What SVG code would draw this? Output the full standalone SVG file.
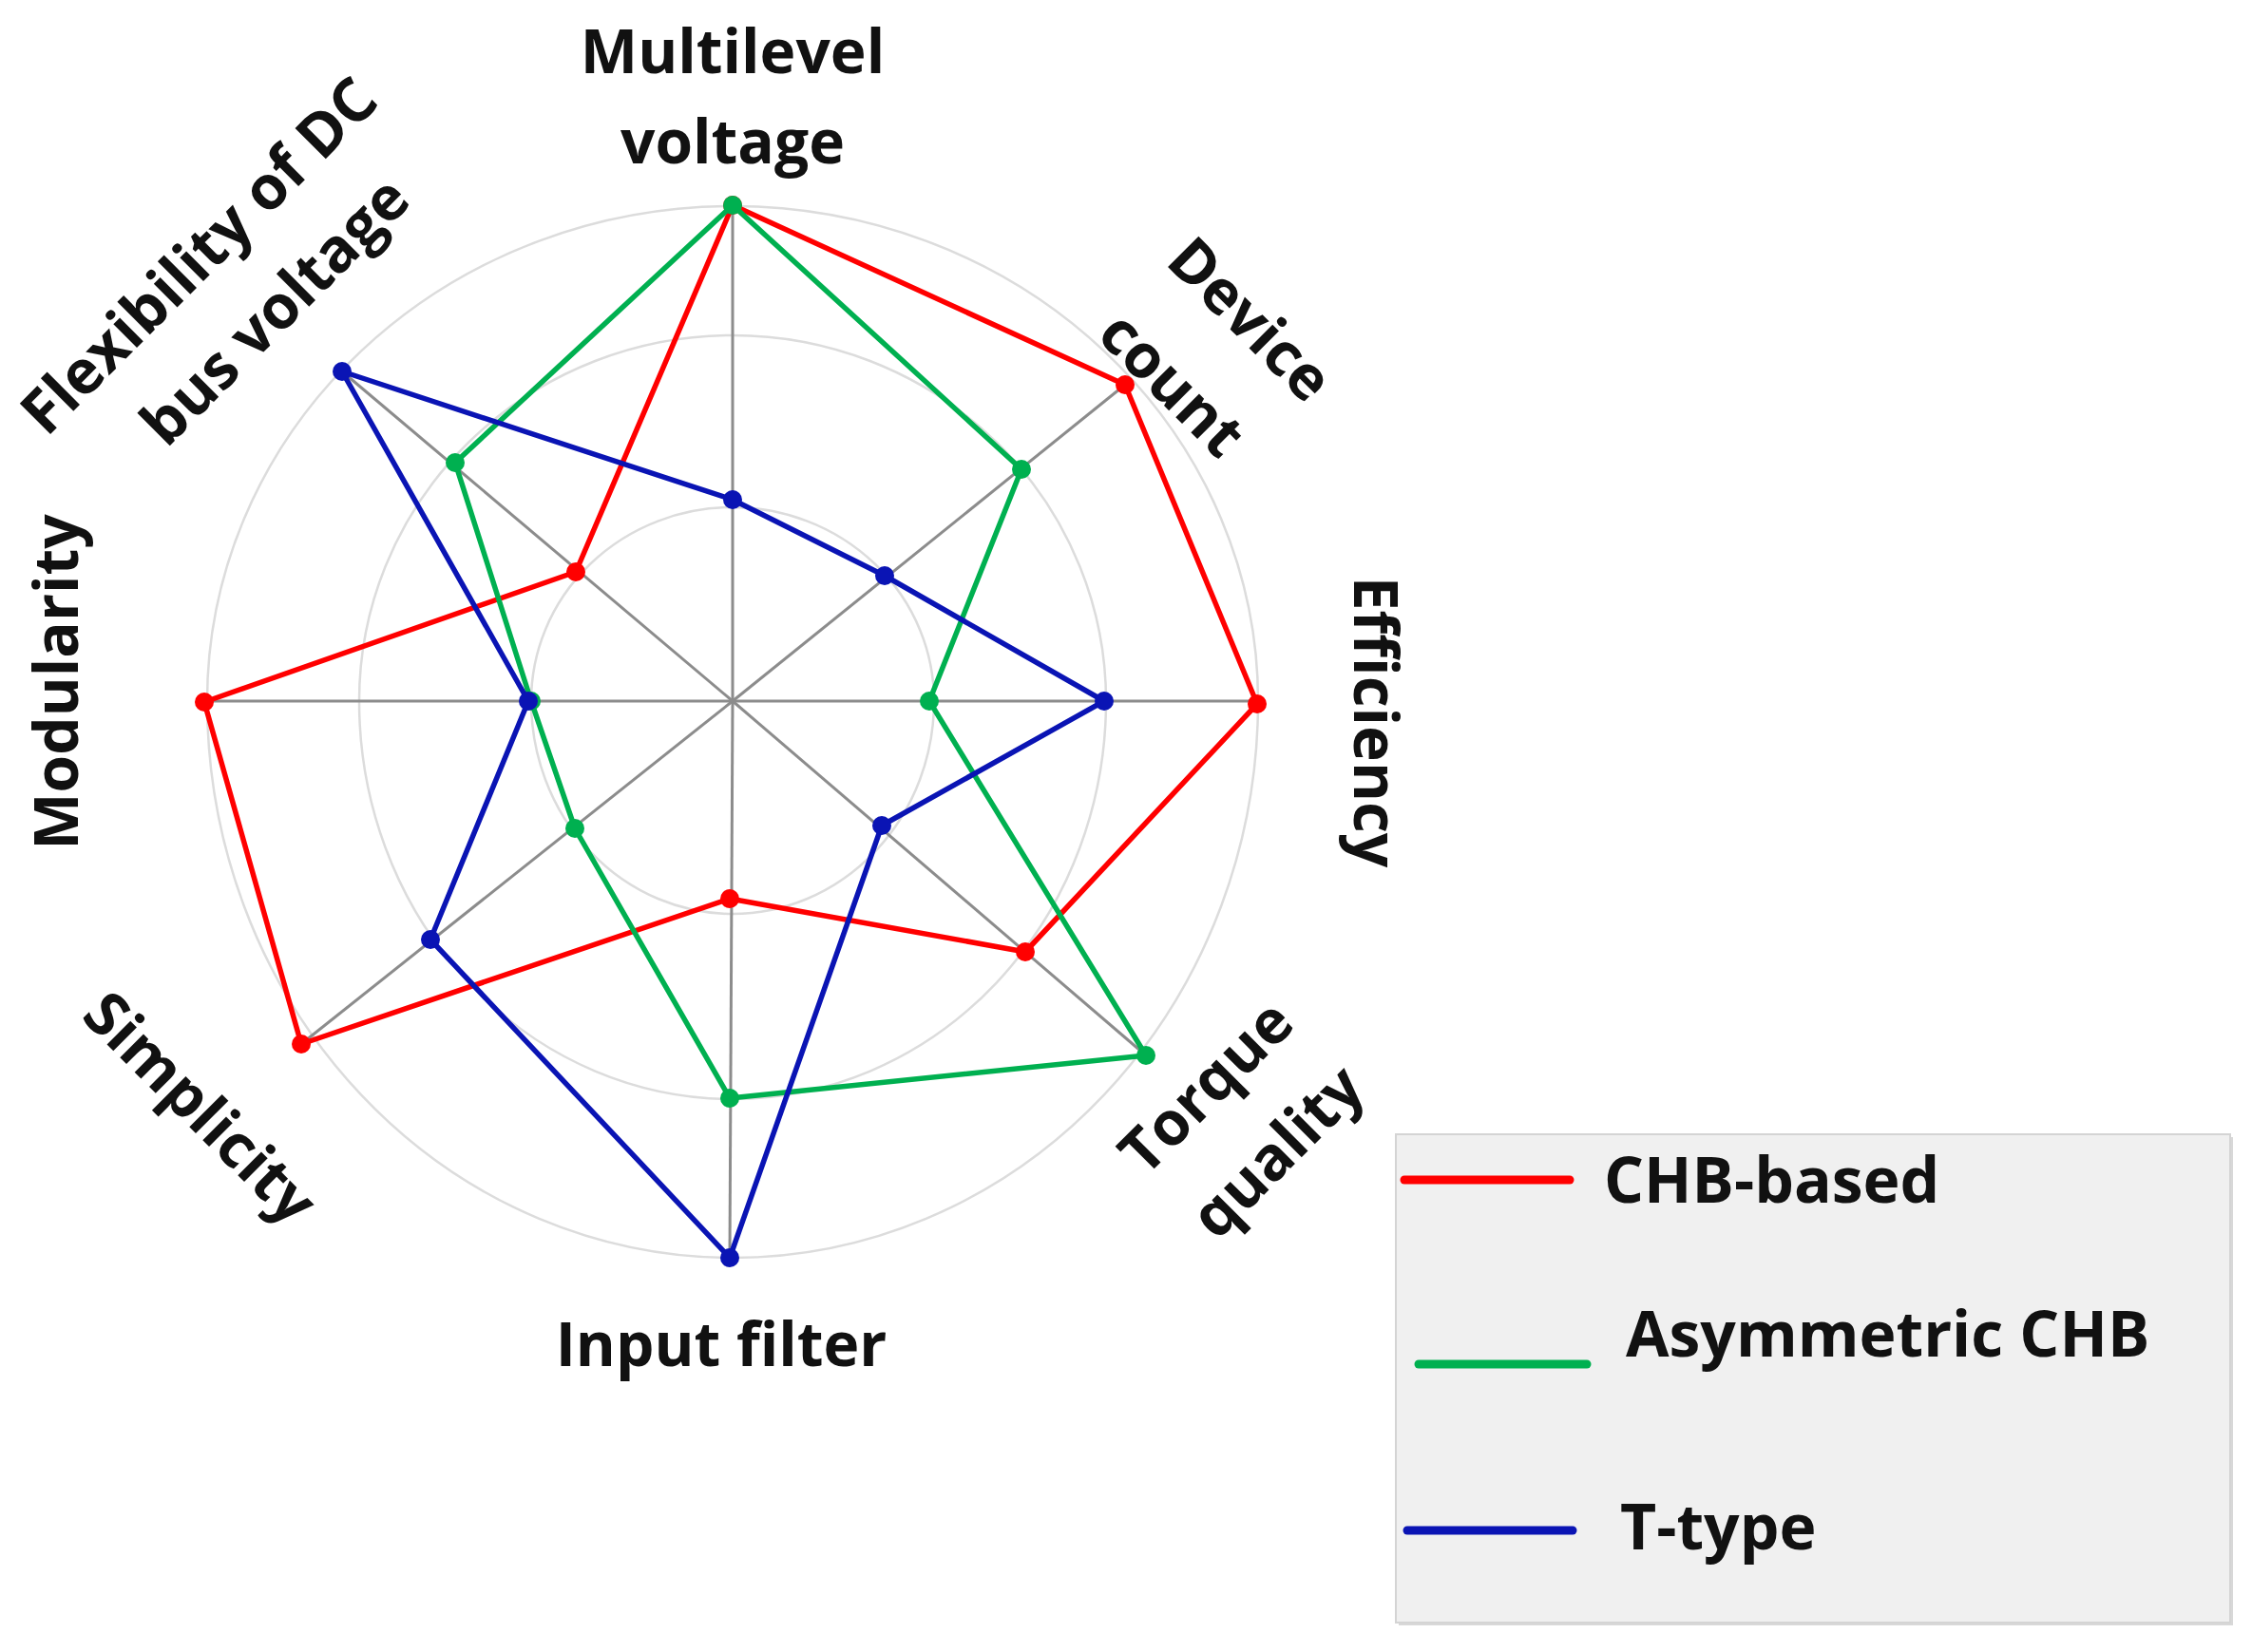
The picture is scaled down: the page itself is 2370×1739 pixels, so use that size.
<svg xmlns="http://www.w3.org/2000/svg" width="2370" height="1739" viewBox="0 0 2370 1739">
<style>
.lbl{font-family:"Open Sans","Liberation Sans",sans-serif;font-weight:bold;font-size:64px;fill:#111;text-anchor:middle}
.leg{font-family:"Open Sans","Liberation Sans",sans-serif;font-weight:bold;font-size:66px;fill:#111}
.ring{fill:none;stroke:#dcdcdc;stroke-width:2.5}
.axis{stroke:#8c8c8c;stroke-width:3}
.s{fill:none;stroke-width:5.5;stroke-linejoin:round}
</style>
<rect width="2370" height="1739" fill="#fff"/>
<g id="grid">
<path class="ring" d="M218,738 A553,521 0 0 1 1324,738 A553,586 0 0 1 218,738Z"/>
<path class="ring" d="M378,738 A393,385 0 0 1 1164,738 A393,419 0 0 1 378,738Z"/>
<path class="ring" d="M559,738 A212,204 0 0 1 983,738 A212,224 0 0 1 559,738Z"/>
</g>
<g id="axes">
<line class="axis" x1="771" y1="738" x2="771" y2="216"/>
<line class="axis" x1="771" y1="738" x2="1184" y2="405"/>
<line class="axis" x1="771" y1="738" x2="1323" y2="738"/>
<line class="axis" x1="771" y1="738" x2="1206" y2="1111"/>
<line class="axis" x1="771" y1="738" x2="768" y2="1324"/>
<line class="axis" x1="771" y1="738" x2="317" y2="1099"/>
<line class="axis" x1="771" y1="738" x2="215" y2="738"/>
<line class="axis" x1="771" y1="738" x2="360" y2="391"/>
</g>
<g id="series-chb" fill="#ff0000">
<polygon class="s" stroke="#ff0000" points="771,216 1184,405 1323,741 1079,1002 768,946 317,1099 215,739 606,602"/>
<circle cx="771" cy="216" r="10"/><circle cx="1184" cy="405" r="10"/><circle cx="1323" cy="741" r="10"/><circle cx="1079" cy="1002" r="10"/><circle cx="768" cy="946" r="10"/><circle cx="317" cy="1099" r="10"/><circle cx="215" cy="739" r="10"/><circle cx="606" cy="602" r="10"/>
</g>
<g id="series-asym" fill="#00b050">
<polygon class="s" stroke="#00b050" points="771,216 1075,494 978,738 1206,1111 768,1156 605,872 559,738 479,487"/>
<circle cx="771" cy="216" r="10"/><circle cx="1075" cy="494" r="10"/><circle cx="978" cy="738" r="10"/><circle cx="1206" cy="1111" r="10"/><circle cx="768" cy="1156" r="10"/><circle cx="605" cy="872" r="10"/><circle cx="559" cy="738" r="10"/><circle cx="479" cy="487" r="10"/>
</g>
<g id="series-ttype" fill="#0a14b4">
<polygon class="s" stroke="#0a14b4" points="771,526 931,606 1162,738 928,869 768,1324 453,989 556,738 360,391"/>
<circle cx="771" cy="526" r="10"/><circle cx="931" cy="606" r="10"/><circle cx="1162" cy="738" r="10"/><circle cx="928" cy="869" r="10"/><circle cx="768" cy="1324" r="10"/><circle cx="453" cy="989" r="10"/><circle cx="556" cy="738" r="10"/><circle cx="360" cy="391" r="10"/>
</g>
<g id="labels">
<text class="lbl" x="771" y="77">Multilevel</text>
<text class="lbl" x="771" y="172">voltage</text>
<text class="lbl" transform="translate(1300,352) rotate(45)">Device</text>
<text class="lbl" transform="translate(1218,420) rotate(45)">count</text>
<text class="lbl" transform="translate(1425,760) rotate(90)">Efficiency</text>
<text class="lbl" transform="translate(1285,1160) rotate(-45)">Torque</text>
<text class="lbl" transform="translate(1360,1228) rotate(-45)">quality</text>
<text class="lbl" x="759" y="1438">Input filter</text>
<text class="lbl" transform="translate(195,1182) rotate(45)">Simplicity</text>
<text class="lbl" transform="translate(82,718) rotate(-90)">Modularity</text>
<text class="lbl" transform="translate(225,285) rotate(-45)">Flexibility of DC</text>
<text class="lbl" transform="translate(305,343) rotate(-45)">bus voltage</text>
</g>
<g id="legend">
<rect x="1472" y="1197" width="878" height="514" fill="#d8d8d8"/>
<rect x="1469" y="1194" width="878" height="514" fill="#f0f0f0" stroke="#d4d4d4" stroke-width="2"/>
<line x1="1478" y1="1242" x2="1652" y2="1242" stroke="#ff0000" stroke-width="9" stroke-linecap="round"/>
<text class="leg" x="1688" y="1266">CHB-based</text>
<line x1="1493" y1="1436" x2="1670" y2="1436" stroke="#00b050" stroke-width="9" stroke-linecap="round"/>
<text class="leg" x="1711" y="1428">Asymmetric CHB</text>
<line x1="1481" y1="1611" x2="1655" y2="1611" stroke="#0a14b4" stroke-width="9" stroke-linecap="round"/>
<text class="leg" x="1705" y="1631">T-type</text>
</g>
</svg>
